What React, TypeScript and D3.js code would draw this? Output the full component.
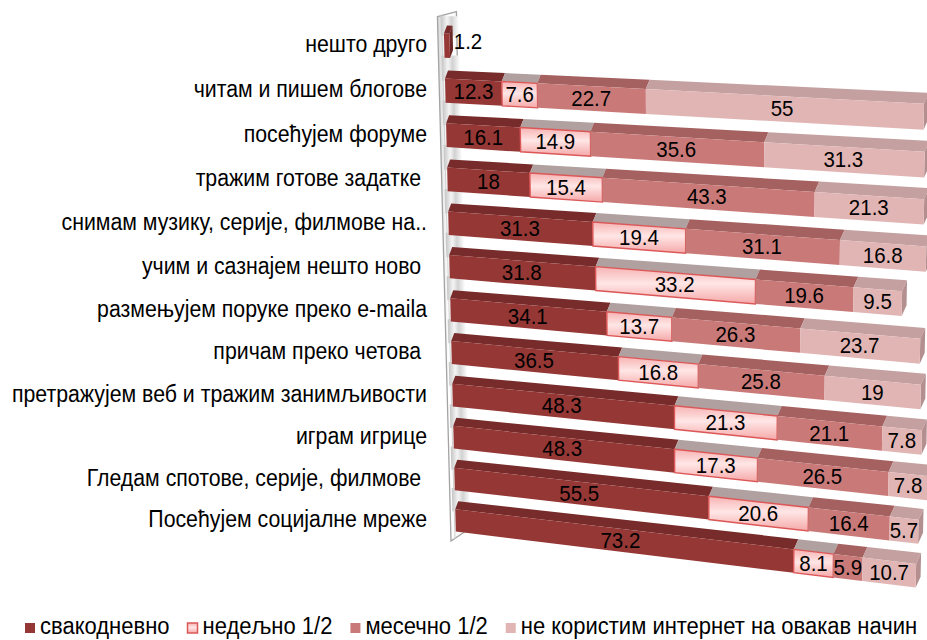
import * as d3 from 'd3';
import { useEffect, useRef } from 'react';

const categories = [
  'нешто друго',
  'читам и пишем блогове',
  'посећујем форуме',
  'тражим готове задатке ',
  'снимам музику, серије, филмове на..',
  'учим и сазнајем нешто ново ',
  'размењујем поруке преко e-maila',
  'причам преко четова ',
  'претражујем веб и тражим занимљивости',
  'играм игрице',
  'Гледам спотове, серије, филмове ',
  'Посећујем социјалне мреже',
];

const daily = [1.2, 12.3, 16.1, 18, 31.3, 31.8, 34.1, 36.5, 48.3, 48.3, 55.5, 73.2];
const weekly = [0, 7.6, 14.9, 15.4, 19.4, 33.2, 13.7, 16.8, 21.3, 17.3, 20.6, 8.1];
const monthly = [0, 22.7, 35.6, 43.3, 31.1, 19.6, 26.3, 25.8, 21.1, 26.5, 16.4, 5.9];
const never = [0, 55, 31.3, 21.3, 16.8, 9.5, 23.7, 19, 7.8, 7.8, 5.7, 10.7];

const seriesNames = ['свакодневно', 'недељно 1/2', 'месечно 1/2', 'не користим интернет на овакав начин'];
const seriesValues = [daily, weekly, monthly, never];

const frontColors = ['#953735', 'url(#weeklyFill)', '#c97a78', '#e1b5b4'];
const topColors = ['#772b2a', '#b1a0a0', '#a46160', '#c4a0a0'];
const sideColors = ['#6b2725', '#a39494', '#985857', '#b38f8f'];

const width = 927;
const height = 640;
const font = '"Liberation Sans", Arial, sans-serif';
const textStretch = 1.1; // the original text is a bit taller than wide

// where the value/category plane lands on screen (3D perspective frame)
const frame: [number, number][] = [[443.7, 23], [938, 45], [926, 599], [456, 541]];

// unit square -> quad projective map
function homography(q: [number, number][]) {
  const [[x0, y0], [x1, y1], [x2, y2], [x3, y3]] = q;
  const dx1 = x1 - x2, dx2 = x3 - x2, dx3 = x0 - x1 + x2 - x3;
  const dy1 = y1 - y2, dy2 = y3 - y2, dy3 = y0 - y1 + y2 - y3;
  const den = dx1 * dy2 - dx2 * dy1;
  const g = (dx3 * dy2 - dx2 * dy3) / den;
  const h = (dx1 * dy3 - dx3 * dy1) / den;
  const a = x1 - x0 + g * x1, b = x3 - x0 + h * x3, c = x0;
  const d = y1 - y0 + g * y1, e = y3 - y0 + h * y3, f = y0;
  return (u: number, t: number): [number, number] => {
    const w = g * u + h * t + 1;
    return [(a * u + b * t + c) / w, (d * u + e * t + f) / w];
  };
}

const App = () => {
  const ref = useRef<SVGSVGElement>(null);

  useEffect(() => {
    const svg = d3.select(ref.current);
    svg.selectAll('*').remove();

    const xScale = d3.scaleLinear().domain([0, 100]).range([0, 1]);
    const yScale = d3.scaleBand().domain(categories).range([0, 1]).paddingInner(0.46).paddingOuter(0.23);
    const step = yScale.step();
    const proj = homography(frame);

    // front plane point and the back (depth) point
    const F = (v: number, t: number) => proj(xScale(v), t);
    const B = (v: number, t: number) => {
      const p = F(v, t);
      const u = xScale(v);
      return [p[0] + 3 + 2 * u, p[1] - (8 + 3 * u)] as [number, number];
    };
    const poly = (pts: [number, number][]) => 'M' + pts.map(p => p.join(',')).join('L') + 'Z';
    const add = (p: [number, number], dx: number, dy: number) => [p[0] + dx, p[1] + dy] as [number, number];
    const place = (x: number, y: number) => `translate(${x},${y}) scale(1,${textStretch})`;

    const defs = svg.append('defs');
    const wg = defs.append('linearGradient').attr('id', 'weeklyFill').attr('x1', 0).attr('y1', 0).attr('x2', 0).attr('y2', 1);
    wg.append('stop').attr('offset', 0).attr('stop-color', '#f7b2b2');
    wg.append('stop').attr('offset', 0.45).attr('stop-color', '#ffe6e6');
    wg.append('stop').attr('offset', 1).attr('stop-color', '#f5a8a8');
    const ng = defs.append('linearGradient').attr('id', 'notch').attr('x1', 0).attr('y1', 0).attr('x2', 1).attr('y2', 0);
    ng.append('stop').attr('offset', 0).attr('stop-color', '#c4c4c4');
    ng.append('stop').attr('offset', 0.35).attr('stop-color', '#f4f4f4');
    ng.append('stop').attr('offset', 0.6).attr('stop-color', '#d2d2d2');
    ng.append('stop').attr('offset', 1).attr('stop-color', '#ffffff');
    const wallG = defs.append('linearGradient').attr('id', 'wall').attr('x1', 0).attr('y1', 0).attr('x2', 1).attr('y2', 0);
    wallG.append('stop').attr('offset', 0).attr('stop-color', '#d8d8d8');
    wallG.append('stop').attr('offset', 0.4).attr('stop-color', '#ffffff');
    wallG.append('stop').attr('offset', 1).attr('stop-color', '#f2f2f2');

    // left wall
    const tTop = -0.25 * step;
    svg.append('path')
      .attr('d', poly([add(F(0, tTop), -6, 5), add(F(0, tTop), 13, 0), add(F(0, 1), 10, -10), add(F(0, 1), -5, 0)]))
      .attr('fill', 'url(#wall)')
      .attr('stroke', '#a3a3a3')
      .attr('stroke-width', 1.3);
    svg.append('path')
      .attr('d', 'M' + add(F(0, tTop), -2, 3).join(',') + 'L' + add(F(0, 1), -1, -2).join(','))
      .attr('stroke', '#cfcfcf')
      .attr('stroke-width', 1);

    // shading on the wall between the bars
    categories.forEach((c, i) => {
      const t0 = i === 0 ? tTop + 0.1 * step : (yScale(categories[i - 1]) as number) + yScale.bandwidth() - 0.05 * step;
      const t1 = (yScale(c) as number) + 0.05 * step;
      svg.append('path')
        .attr('d', poly([add(F(0, t0), -3, 0), add(F(0, t0), 15, 0), add(F(0, t1), 15, 0), add(F(0, t1), -3, 0)]))
        .attr('fill', 'url(#notch)');
    });

    // bars
    categories.forEach((c, i) => {
      const t0 = yScale(c) as number;
      const t1 = t0 + yScale.bandwidth();
      const tm = (t0 + t1) / 2;
      const segs: { k: number; v0: number; v1: number }[] = [];
      let acc = 0;
      seriesValues.forEach((vals, k) => {
        if (vals[i] > 0) {
          segs.push({ k, v0: acc, v1: acc + vals[i] });
          acc += vals[i];
        }
      });
      const row = svg.append('g');
      segs.forEach((s, j) => {
        row.append('path')
          .attr('d', poly([F(s.v0, t0), F(s.v1, t0), B(s.v1, t0), B(s.v0, t0)]))
          .attr('fill', topColors[s.k]);
        if (j === segs.length - 1) {
          row.append('path')
            .attr('d', poly([F(s.v1, t0), B(s.v1, t0), B(s.v1, t1), F(s.v1, t1)]))
            .attr('fill', sideColors[s.k]);
        }
        const front = row.append('path')
          .attr('d', poly([F(s.v0, t0), F(s.v1, t0), F(s.v1, t1), F(s.v0, t1)]))
          .attr('fill', frontColors[s.k]);
        if (s.k === 1) front.attr('stroke', '#dc5858').attr('stroke-width', 1.4);
      });
      segs.forEach((s, j) => {
        const [cx, cy] = F((s.v0 + s.v1) / 2, tm);
        const label = row.append('text')
          .attr('transform', place(cx, cy))
          .attr('text-anchor', 'middle')
          .attr('dominant-baseline', 'central')
          .style('font-family', font)
          .style('font-size', '20.5px')
          .attr('fill', '#000')
          .text(String(seriesValues[s.k][i]));
        const segW = F(s.v1, tm)[0] - F(s.v0, tm)[0];
        const tw = (label.node() as SVGTextElement).getComputedTextLength();
        if (tw > segW + 6 && j === segs.length - 1) {
          label.attr('transform', place(B(s.v1, tm)[0] + 1, cy - 4)).attr('text-anchor', 'start');
        }
      });
    });

    // category labels
    svg.append('g')
      .selectAll('text')
      .data(categories)
      .enter()
      .append('text')
      .attr('transform', d => place(427, F(0, (yScale(d) as number) + yScale.bandwidth() / 2)[1] - 1))
      .attr('text-anchor', 'end')
      .attr('dominant-baseline', 'central')
      .style('font-family', font)
      .style('font-size', '21.3px')
      .style('white-space', 'pre')
      .attr('fill', '#000')
      .text(d => d);

    // legend
    const legend = svg.append('g');
    let lx = 25;
    seriesNames.forEach((name, k) => {
      const mark = legend.append('rect')
        .attr('x', lx)
        .attr('y', 623)
        .attr('width', 10)
        .attr('height', 10)
        .attr('fill', frontColors[k]);
      if (k === 1) mark.attr('stroke', '#dc5858').attr('stroke-width', 1.5);
      const txt = legend.append('text')
        .attr('transform', place(lx + 15, 634))
        .style('font-family', font)
        .style('font-size', '22px')
        .attr('fill', '#000')
        .text(name);
      lx += 15 + (txt.node() as SVGTextElement).getComputedTextLength() + 18;
    });
  }, []);

  return (
    <svg ref={ref} width={width} height={height} style={{ position: 'absolute', left: 0, top: 0, background: '#fff' }} />
  );
};

export default App;
